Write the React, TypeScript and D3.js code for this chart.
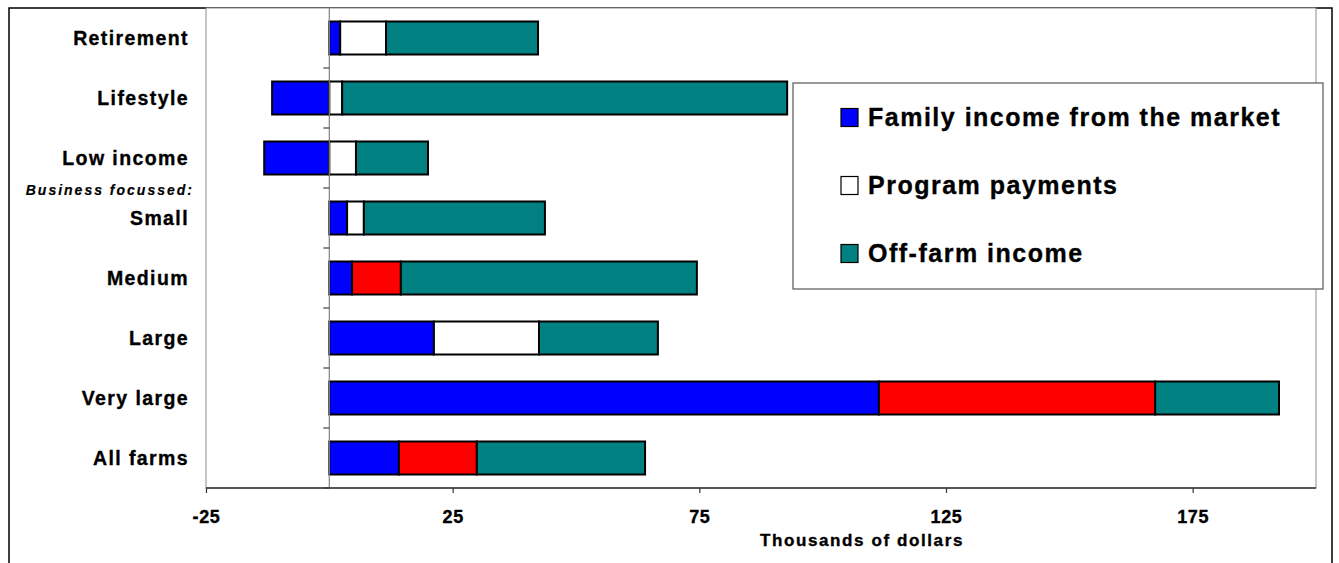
import { useRef, useEffect } from "react";
import * as d3 from "d3";

// Farm typology: income components, thousands of dollars
const categories = ["Retirement", "Lifestyle", "Low income", "Small", "Medium", "Large", "Very large", "All farms"];
const marketIncome = [2.2, -11.6, -13.2, 3.6, 4.6, 21.2, 111.4, 14.1];
const programWhite = [9.3, 2.6, 5.4, 3.4, 0, 21.3, 0, 0];
const programRed = [0, 0, 0, 0, 9.9, 0, 56.0, 15.8];
const offFarmIncome = [30.8, 90.2, 14.6, 36.7, 60.0, 24.1, 25.1, 34.1];
const xTicks = [-25, 25, 75, 125, 175];

const seriesKeys = ["market", "programWhite", "programRed", "offFarm"];
const seriesColors: Record<string, string> = {
  market: "#0000ff",
  programWhite: "#ffffff",
  programRed: "#ff0000",
  offFarm: "#008080",
};
const legendItems = [
  { label: "Family income from the market", color: "#0000ff" },
  { label: "Program payments", color: "#ffffff" },
  { label: "Off-farm income", color: "#008080" },
];

const W = 1339;
const H = 563;
const FONT = "'Liberation Sans', Arial, Helvetica, sans-serif";

export default function App() {
  const svgRef = useRef<SVGSVGElement>(null);

  useEffect(() => {
    if (!svgRef.current) return;
    const svg = d3.select(svgRef.current);
    svg.selectAll("*").remove();

    const plot = { left: 206, right: 1316, top: 8, bottom: 488 };

    const x = d3.scaleLinear().domain([-25, 200]).range([plot.left, plot.right]);
    const y = d3.scaleBand<string>().domain(categories).range([plot.top, plot.bottom])
      .paddingInner(0.45).paddingOuter(0.225);

    // outer chart frame
    svg.append("rect").attr("x", 9).attr("y", 8).attr("width", 1323).attr("height", 620)
      .attr("fill", "#fff").attr("stroke", "#000").attr("stroke-width", 1.5);

    // plot area border
    svg.append("rect").attr("x", plot.left).attr("y", plot.top)
      .attr("width", plot.right - plot.left).attr("height", plot.bottom - plot.top)
      .attr("fill", "#fff").attr("stroke", "#8c8c8c").attr("stroke-width", 1);

    // stacked bars
    const rows = categories.map((c, i) => ({
      cat: c,
      market: marketIncome[i],
      programWhite: programWhite[i],
      programRed: programRed[i],
      offFarm: offFarmIncome[i],
    }));
    const stacked = d3.stack<any>().keys(seriesKeys).offset(d3.stackOffsetDiverging)(rows);

    stacked.forEach((s) => {
      svg.append("g").selectAll("rect")
        .data(s.filter((d) => d[1] - d[0] !== 0))
        .join("rect")
        .attr("x", (d) => x(Math.min(d[0], d[1])))
        .attr("y", (d) => y(d.data.cat)!)
        .attr("width", (d) => Math.abs(x(d[1]) - x(d[0])))
        .attr("height", y.bandwidth())
        .attr("fill", seriesColors[s.key])
        .attr("stroke", "#000").attr("stroke-width", 2);
    });

    // category axis at zero
    const x0 = x(0);
    svg.append("line").attr("x1", x0).attr("x2", x0).attr("y1", plot.top).attr("y2", plot.bottom)
      .attr("stroke", "#808080").attr("stroke-width", 1.2);
    const step = y.step();
    d3.range(1, categories.length + 1).forEach((i) => {
      const yy = plot.top + i * step;
      svg.append("line").attr("x1", x0 - 6).attr("x2", x0).attr("y1", yy).attr("y2", yy)
        .attr("stroke", "#404040").attr("stroke-width", 1.2);
    });

    // value axis
    const xAxis = svg.append("g").attr("transform", `translate(0,${plot.bottom})`)
      .call(d3.axisBottom(x).tickValues(xTicks).tickSize(5).tickPadding(17).tickFormat((d) => String(d)));
    xAxis.select(".domain").attr("stroke", "#333").attr("stroke-width", 1.5)
      .attr("d", `M${plot.left},0H${plot.right}`);
    xAxis.selectAll(".tick line").attr("stroke", "#333").attr("stroke-width", 1.2);
    xAxis.selectAll(".tick text")
      .attr("fill", "#000").attr("font-family", FONT).attr("font-size", "18px")
      .attr("font-weight", "bold").attr("letter-spacing", "0.6px")
      .attr("stroke", "#000").attr("stroke-width", 0.35);

    const boldText = (sel: d3.Selection<SVGTextElement, unknown, null, undefined>) =>
      sel.attr("font-family", FONT).attr("font-weight", "bold").attr("fill", "#000")
        .attr("stroke", "#000").attr("stroke-width", 0.35);

    svg.append("text").attr("x", 862).attr("y", 546).attr("text-anchor", "middle")
      .attr("font-size", "17px").attr("letter-spacing", "1.6px")
      .call(boldText).text("Thousands of dollars");

    // category labels
    categories.forEach((c) => {
      svg.append("text").attr("x", 189).attr("y", y(c)! + y.bandwidth() / 2 + 7)
        .attr("text-anchor", "end").attr("font-size", "19.5px").attr("letter-spacing", "1.4px")
        .call(boldText).text(c);
    });
    svg.append("text").attr("x", 194).attr("y", 195).attr("text-anchor", "end")
      .attr("font-size", "14px").attr("font-style", "italic").attr("letter-spacing", "2px")
      .call(boldText).attr("stroke-width", 0.2).text("Business focussed:");

    // legend
    const lg = svg.append("g");
    lg.append("rect").attr("x", 793).attr("y", 83).attr("width", 530).attr("height", 206)
      .attr("fill", "#fff").attr("stroke", "#555").attr("stroke-width", 1.2);
    legendItems.forEach((item, i) => {
      const cy = 117.5 + i * 68;
      lg.append("rect").attr("x", 841).attr("y", cy - 9).attr("width", 17).attr("height", 18)
        .attr("fill", item.color).attr("stroke", "#000").attr("stroke-width", 1.2);
      lg.append("text").attr("x", 868).attr("y", cy + 8.5)
        .attr("font-size", "25px").attr("letter-spacing", "1.5px")
        .call(boldText).text(item.label);
    });
  }, []);

  return (
    <svg ref={svgRef} width={W} height={H}
      style={{ position: "absolute", left: 0, top: 0, display: "block", background: "#fff" }} />
  );
}
